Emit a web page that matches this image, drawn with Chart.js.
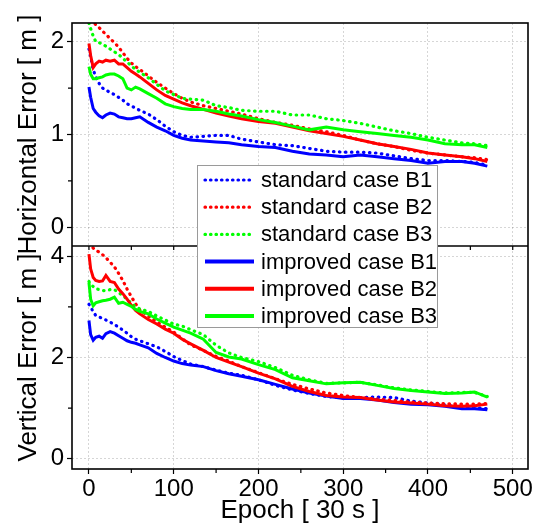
<!DOCTYPE html>
<html>
<head>
<meta charset="utf-8">
<script src="https://cdn.jsdelivr.net/npm/chart.js@4/dist/chart.umd.min.js"></script>
<style>
  html, body { margin: 0; padding: 0; background: #fff; }
  #wrap { width: 534px; height: 526px; }
</style>
</head>
<body>
<div id="wrap"><canvas id="errChart" width="534" height="526"></canvas></div>
<script>
const epochs = [0, 2, 5, 8, 12, 16, 20, 25, 30, 35, 40, 45, 50, 55, 60, 70, 80, 90, 100, 110,
    120, 135, 150, 165, 180, 200, 220, 240, 260, 280, 300, 320, 340, 360, 380, 400, 420, 440, 455, 470];

// horizontal error [m]
const stdH1 = [1.92, 1.84, 1.70, 1.62, 1.55, 1.50, 1.48, 1.45, 1.43, 1.40, 1.37, 1.33, 1.31, 1.28, 1.26, 1.22, 1.16, 1.09, 1.03, 0.99,
    0.97, 0.98, 0.99, 0.99, 0.95, 0.92, 0.89, 0.88, 0.85, 0.82, 0.81, 0.81, 0.80, 0.77, 0.74, 0.72, 0.72, 0.71, 0.70, 0.67];
const stdH2 = [2.30, 2.26, 2.22, 2.18, 2.15, 2.11, 2.08, 2.03, 1.99, 1.94, 1.88, 1.82, 1.77, 1.73, 1.70, 1.63, 1.56, 1.50, 1.44, 1.39,
    1.35, 1.31, 1.28, 1.25, 1.22, 1.17, 1.13, 1.10, 1.06, 1.03, 0.99, 0.94, 0.90, 0.87, 0.83, 0.80, 0.78, 0.76, 0.75, 0.73];
const stdH3 = [2.20, 2.14, 2.06, 2.00, 1.99, 1.97, 1.95, 1.92, 1.89, 1.86, 1.82, 1.78, 1.74, 1.70, 1.67, 1.61, 1.54, 1.47, 1.43, 1.39,
    1.38, 1.37, 1.31, 1.29, 1.26, 1.25, 1.25, 1.21, 1.21, 1.17, 1.15, 1.12, 1.08, 1.04, 1.01, 0.97, 0.94, 0.91, 0.90, 0.88];
const impH1 = [1.51, 1.40, 1.28, 1.24, 1.20, 1.18, 1.21, 1.23, 1.22, 1.19, 1.18, 1.17, 1.17, 1.18, 1.19, 1.13, 1.08, 1.04, 0.99, 0.96,
    0.94, 0.93, 0.92, 0.91, 0.89, 0.87, 0.86, 0.82, 0.79, 0.78, 0.76, 0.78, 0.76, 0.74, 0.72, 0.69, 0.71, 0.71, 0.69, 0.66];
const impH2 = [1.98, 1.85, 1.72, 1.76, 1.79, 1.78, 1.80, 1.79, 1.80, 1.76, 1.76, 1.72, 1.68, 1.65, 1.62, 1.55, 1.48, 1.42, 1.38, 1.34,
    1.31, 1.27, 1.23, 1.20, 1.17, 1.14, 1.12, 1.08, 1.04, 1.01, 0.98, 0.94, 0.90, 0.87, 0.84, 0.80, 0.78, 0.76, 0.74, 0.71];
const impH3 = [1.73, 1.65, 1.60, 1.60, 1.61, 1.62, 1.64, 1.65, 1.65, 1.63, 1.60, 1.50, 1.48, 1.51, 1.49, 1.44, 1.39, 1.33, 1.30, 1.28,
    1.27, 1.27, 1.25, 1.22, 1.20, 1.16, 1.13, 1.09, 1.05, 1.08, 1.05, 1.03, 1.01, 0.99, 0.97, 0.94, 0.90, 0.89, 0.89, 0.86];

// vertical error [m]
const stdV1 = [3.05, 3.00, 2.90, 2.83, 2.80, 2.77, 2.74, 2.70, 2.65, 2.60, 2.54, 2.48, 2.41, 2.36, 2.33, 2.27, 2.21, 2.12, 2.02, 1.94,
    1.87, 1.82, 1.75, 1.69, 1.65, 1.56, 1.45, 1.36, 1.29, 1.23, 1.20, 1.21, 1.22, 1.21, 1.14, 1.10, 1.07, 1.03, 1.01, 0.99];
const stdV2 = [4.25, 4.22, 4.16, 4.12, 4.08, 4.03, 3.97, 3.88, 3.79, 3.66, 3.52, 3.35, 3.20, 3.06, 2.94, 2.82, 2.70, 2.60, 2.50, 2.37,
    2.25, 2.14, 2.02, 1.93, 1.82, 1.70, 1.58, 1.47, 1.38, 1.30, 1.25, 1.21, 1.18, 1.15, 1.12, 1.10, 1.09, 1.08, 1.08, 1.09];
const stdV3 = [3.50, 3.45, 3.40, 3.36, 3.34, 3.32, 3.32, 3.34, 3.34, 3.28, 3.22, 3.15, 3.07, 3.00, 2.96, 2.91, 2.82, 2.74, 2.66, 2.62,
    2.55, 2.45, 2.24, 2.09, 2.00, 1.92, 1.80, 1.65, 1.56, 1.49, 1.50, 1.51, 1.46, 1.40, 1.36, 1.33, 1.30, 1.31, 1.31, 1.23];
const impV1 = [2.73, 2.45, 2.34, 2.40, 2.42, 2.38, 2.47, 2.51, 2.48, 2.43, 2.38, 2.33, 2.30, 2.28, 2.25, 2.19, 2.08, 2.00, 1.93, 1.88,
    1.85, 1.82, 1.74, 1.68, 1.63, 1.56, 1.47, 1.38, 1.30, 1.24, 1.19, 1.19, 1.16, 1.11, 1.08, 1.07, 1.04, 0.99, 0.99, 0.97];
const impV2 = [4.04, 3.75, 3.58, 3.52, 3.50, 3.51, 3.62, 3.50, 3.48, 3.35, 3.26, 3.15, 3.03, 2.93, 2.86, 2.75, 2.66, 2.56, 2.48, 2.36,
    2.27, 2.14, 2.00, 1.91, 1.82, 1.69, 1.58, 1.43, 1.33, 1.25, 1.22, 1.21, 1.16, 1.12, 1.10, 1.08, 1.05, 1.04, 1.05, 1.08];
const impV3 = [3.48, 3.15, 3.02, 3.08, 3.10, 3.12, 3.13, 3.15, 3.19, 3.07, 3.09, 3.05, 3.01, 2.95, 2.91, 2.86, 2.76, 2.68, 2.60, 2.54,
    2.48, 2.36, 2.10, 2.01, 1.97, 1.86, 1.76, 1.60, 1.54, 1.48, 1.50, 1.51, 1.45, 1.39, 1.35, 1.32, 1.29, 1.30, 1.32, 1.22];

// ticks
const xTicks = [0, 100, 200, 300, 400, 500];
const xMinor = [50, 150, 250, 350, 450];
const hTicks = [0, 1, 2];
const hMinor = [0.5, 1.5];
const vTicks = [0, 2, 4];
const vMinor = [1, 3];

const FONT = "'Liberation Sans', Arial, sans-serif";
const blue = "#0000ff", red = "#ff0000", green = "#00ff00";
const gridColor = "rgba(0,0,0,0.16)";
const dots = [0.5, 5.5];

function series(label, values, color, axis, dotted, inLegend) {
    return {
        label: label,
        data: values.map((v, i) => ({ x: epochs[i], y: v })),
        yAxisID: axis,
        borderColor: color,
        backgroundColor: color,
        borderWidth: dotted ? 3.2 : 3,
        borderDash: dotted ? dots : [],
        borderCapStyle: dotted ? "round" : "butt",
        pointRadius: 0,
        fill: false,
        tension: 0,
        inLegend: inLegend
    };
}

// first dataset is drawn on top
const datasets = [
    series("improved case B3", impH3, green, "yH", false, true),
    series("improved case B2", impH2, red, "yH", false, true),
    series("improved case B1", impH1, blue, "yH", false, true),
    series("standard case B3", stdH3, green, "yH", true, true),
    series("standard case B2", stdH2, red, "yH", true, true),
    series("standard case B1", stdH1, blue, "yH", true, true),
    series("improved case B3", impV3, green, "yV", false, false),
    series("improved case B2", impV2, red, "yV", false, false),
    series("improved case B1", impV1, blue, "yV", false, false),
    series("standard case B3", stdV3, green, "yV", true, false),
    series("standard case B2", stdV2, red, "yV", true, false),
    series("standard case B1", stdV1, blue, "yV", true, false)
];

// keep each curve inside its own panel
const panelClip = {
    id: "panelClip",
    beforeDatasetDraw(chart, args) {
        let ys = args.meta.vScale;
        let ca = chart.chartArea;
        chart.ctx.save();
        chart.ctx.beginPath();
        chart.ctx.rect(ca.left, ys.top, ca.right - ca.left, ys.bottom - ys.top);
        chart.ctx.clip();
    },
    afterDatasetDraw(chart) {
        chart.ctx.restore();
    }
};

// black frame, panel separator and minor ticks
const frame = {
    id: "frame",
    afterDatasetsDraw(chart) {
        let ctx = chart.ctx;
        let ca = chart.chartArea;
        let sx = chart.scales.x, yH = chart.scales.yH, yV = chart.scales.yV;
        ctx.save();
        ctx.strokeStyle = "#000";
        ctx.lineWidth = 1.6;
        ctx.strokeRect(ca.left, ca.top, ca.right - ca.left, ca.bottom - ca.top);
        ctx.beginPath();
        ctx.moveTo(ca.left, yH.bottom);
        ctx.lineTo(ca.right, yH.bottom);
        ctx.stroke();

        ctx.lineWidth = 1.2;
        ctx.beginPath();
        xMinor.forEach(v => {
            let px = sx.getPixelForValue(v);
            ctx.moveTo(px, ca.bottom);
            ctx.lineTo(px, ca.bottom + 4);
        });
        xTicks.concat(xMinor).forEach(v => {
            let px = sx.getPixelForValue(v);
            ctx.moveTo(px, yH.bottom);
            ctx.lineTo(px, yH.bottom + 4);
        });
        hMinor.forEach(v => {
            let py = yH.getPixelForValue(v);
            ctx.moveTo(ca.left, py);
            ctx.lineTo(ca.left - 4, py);
        });
        vMinor.forEach(v => {
            let py = yV.getPixelForValue(v);
            ctx.moveTo(ca.left, py);
            ctx.lineTo(ca.left - 4, py);
        });
        ctx.stroke();
        ctx.restore();
    }
};

// legend box that straddles both panels
const boxLegend = {
    id: "boxLegend",
    afterDraw(chart) {
        let ctx = chart.ctx;
        let items = chart.data.datasets.filter(d => d.inLegend);
        items.sort((a, b) => {
            let ka = (a.borderDash.length ? 0 : 10) + parseInt(a.label.slice(-1));
            let kb = (b.borderDash.length ? 0 : 10) + parseInt(b.label.slice(-1));
            return ka - kb;
        });
        let left = 197.5, top = 165.5, w = 240, h = 162;
        ctx.save();
        ctx.fillStyle = "#fff";
        ctx.fillRect(left, top, w, h);
        ctx.strokeStyle = "#9a9a9a";
        ctx.lineWidth = 1;
        ctx.strokeRect(left, top, w, h);
        ctx.font = "22px " + FONT;
        ctx.textBaseline = "middle";
        ctx.fillStyle = "#000";
        items.forEach((d, i) => {
            let y = 180 + i * 27.2;
            let dotted = d.borderDash.length > 0;
            ctx.beginPath();
            ctx.strokeStyle = d.borderColor;
            ctx.lineWidth = dotted ? 3.2 : 4;
            ctx.lineCap = dotted ? "round" : "butt";
            ctx.setLineDash(dotted ? [0.5, 5] : []);
            ctx.moveTo(205, y);
            ctx.lineTo(254, y);
            ctx.stroke();
            ctx.setLineDash([]);
            ctx.fillText(d.label, 261, y + 1);
        });
        ctx.restore();
    }
};

const tickFont = { family: FONT, size: 24 };
const titleFont = { family: FONT, size: 26 };

new Chart(document.getElementById("errChart"), {
    type: "line",
    data: { datasets: datasets },
    options: {
        responsive: false,
        animation: false,
        events: [],
        layout: { padding: { left: 0, right: 6, top: 23, bottom: 0 } },
        plugins: { legend: { display: false }, tooltip: { enabled: false } },
        scales: {
            x: {
                type: "linear",
                position: "bottom",
                min: -20,
                max: 518,
                afterBuildTicks: s => { s.ticks = xTicks.map(v => ({ value: v })); },
                afterFit: s => { s.height = 57; s.paddingLeft = 0; s.paddingRight = 0; },
                ticks: { color: "#000", font: tickFont, padding: 1, maxRotation: 0 },
                grid: { color: gridColor, tickColor: "#000", tickLength: 5, tickWidth: 1.2 },
                border: { display: false, dash: [2, 2] },
                title: { display: true, text: "Epoch [ 30 s ]", color: "#000", font: titleFont, padding: { top: 0, bottom: 0 } }
            },
            yV: {
                type: "linear",
                position: "left",
                stack: "panels",
                stackWeight: 1,
                weight: 1,
                min: -0.2,
                max: 4.2,
                afterBuildTicks: s => { s.ticks = vTicks.map(v => ({ value: v })); },
                afterFit: s => { s.width = 72; s.paddingTop = 0; s.paddingBottom = 0; },
                ticks: { color: "#000", font: tickFont, padding: 3 },
                grid: { color: gridColor, tickColor: "#000", tickLength: 5, tickWidth: 1.2 },
                border: { display: false, dash: [2, 2] },
                title: { display: true, text: "Vertical Error [ m ]", color: "#000", font: titleFont, padding: { top: 13, bottom: 0 } }
            },
            yH: {
                type: "linear",
                position: "left",
                stack: "panels",
                stackWeight: 1,
                weight: 2,
                min: -0.2,
                max: 2.2,
                afterBuildTicks: s => { s.ticks = hTicks.map(v => ({ value: v })); },
                afterFit: s => { s.width = 72; s.paddingTop = 0; s.paddingBottom = 0; },
                ticks: { color: "#000", font: tickFont, padding: 3 },
                grid: { color: gridColor, tickColor: "#000", tickLength: 5, tickWidth: 1.2 },
                border: { display: false, dash: [2, 2] },
                title: { display: true, text: "Horizontal Error [ m ]", color: "#000", font: titleFont, padding: { top: 13, bottom: 0 } }
            }
        }
    },
    plugins: [panelClip, frame, boxLegend]
});
</script>
</body>
</html>
